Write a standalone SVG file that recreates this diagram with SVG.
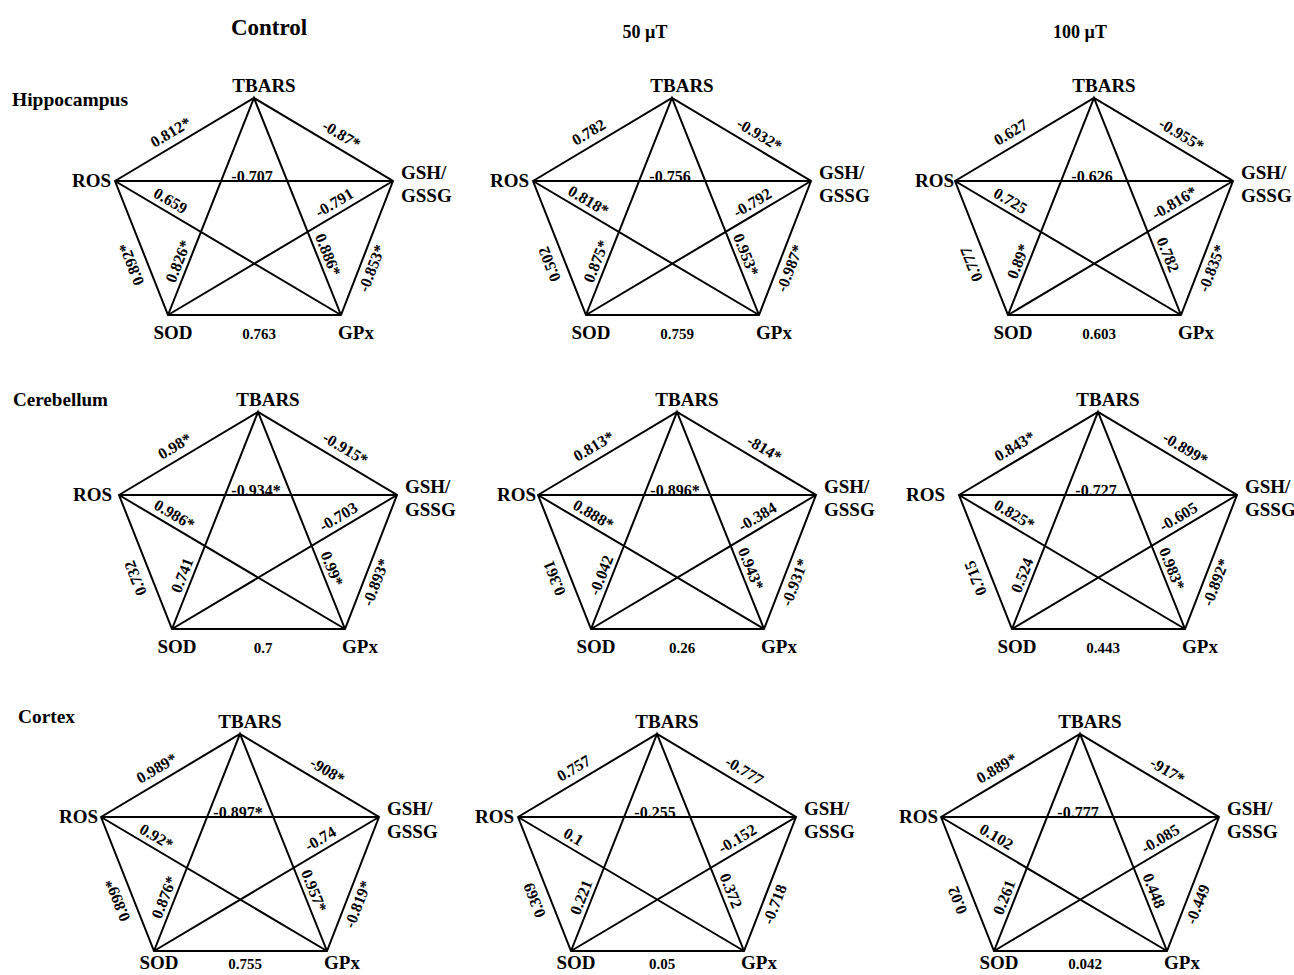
<svg xmlns="http://www.w3.org/2000/svg" xmlns:xlink="http://www.w3.org/1999/xlink" width="1294" height="975" viewBox="0 0 1294 975">
<style>
text{font-family:"Liberation Serif","Times New Roman",serif;font-weight:bold;fill:#000}
.t1{font-size:23px;text-anchor:middle}
.t2{font-size:18px;text-anchor:middle}
.r{font-size:19px}
.n{font-size:19px}
.m{text-anchor:middle}
.en{text-anchor:end}
.e{font-size:16px;text-anchor:middle}
.b{font-size:15px;text-anchor:middle}
.w{fill:none;stroke:#000;stroke-width:2;stroke-linejoin:miter}
</style>
<defs>
<path id="web" class="w" d="M-139,83 L0,0 L139,83 L87,217 L-86,217 Z M-139,83 L139,83 M-139,83 L87,217 M139,83 L-86,217 M-86,217 L0,0 L87,217"/>
</defs>
<rect width="1294" height="975" fill="#fff"/>
<g id="titles">
<text class="t1" x="269" y="35">Control</text>
<text class="t2" x="645" y="38">50 µT</text>
<text class="t2" x="1080" y="38">100 µT</text>
<text class="r" x="12" y="106" textLength="116" lengthAdjust="spacingAndGlyphs">Hippocampus</text>
<text class="r" x="13" y="406" textLength="95" lengthAdjust="spacingAndGlyphs">Cerebellum</text>
<text class="r" x="18" y="723" textLength="57" lengthAdjust="spacingAndGlyphs">Cortex</text>
</g>

<!-- Panel 1 -->
<g id="hippo-control" transform="translate(254,98)">
<g id="hippo-control-connectors">
<use href="#web" xlink:href="#web"/>
<text class="e" transform="translate(-76.5,45.7) rotate(-30.84)" y="-8">0.812*</text>
<text class="e" transform="translate(80.6,48.1) rotate(30.84)" y="-8">-0.87*</text>
<text class="e" x="-2" y="84">-0.707</text>
<text class="e" transform="translate(-89.3,112.5) rotate(30.66)" y="-6">0.659</text>
<text class="e" transform="translate(86.1,114.5) rotate(-30.77)" y="-6">-0.791</text>
<text class="e" transform="translate(-66.2,167.1) rotate(-68.38)" y="-5">0.826*</text>
<text class="e" transform="translate(64.4,160.6) rotate(68.15)" y="-5">0.886*</text>
<text class="e" transform="translate(-108.3,160.7) rotate(-111.58)" y="-10">0.892*</text>
<text class="e" transform="translate(106.8,166.1) rotate(-68.79)" y="17">-0.853*</text>
<text class="b" x="5" y="241">0.763</text>
</g>
<g id="hippo-control-TBARS"><text class="n m" x="10" y="-6">TBARS</text></g>
<g id="hippo-control-ROS"><text class="n en" x="-143" y="89">ROS</text></g>
<g id="hippo-control-GSH"><text class="n" x="147" y="81">GSH/</text><text class="n" x="147" y="104">GSSG</text></g>
<g id="hippo-control-SOD"><text class="n m" x="-81" y="241">SOD</text></g>
<g id="hippo-control-GPx"><text class="n m" x="102" y="241">GPx</text></g>
</g>

<!-- Panel 2 -->
<g id="hippo-50" transform="translate(672,98)">
<g id="hippo-50-connectors">
<use href="#web" xlink:href="#web"/>
<text class="e" transform="translate(-76.5,45.7) rotate(-30.84)" y="-8">0.782</text>
<text class="e" transform="translate(80.6,48.1) rotate(30.84)" y="-8">-0.932*</text>
<text class="e" x="-2" y="84">-0.756</text>
<text class="e" transform="translate(-89.3,112.5) rotate(30.66)" y="-6">0.818*</text>
<text class="e" transform="translate(86.1,114.5) rotate(-30.77)" y="-6">-0.792</text>
<text class="e" transform="translate(-66.2,167.1) rotate(-68.38)" y="-5">0.875*</text>
<text class="e" transform="translate(64.4,160.6) rotate(68.15)" y="-5">0.953*</text>
<text class="e" transform="translate(-108.3,160.7) rotate(-111.58)" y="-10">0.502</text>
<text class="e" transform="translate(106.8,166.1) rotate(-68.79)" y="17">-0.987*</text>
<text class="b" x="5" y="241">0.759</text>
</g>
<g id="hippo-50-TBARS"><text class="n m" x="10" y="-6">TBARS</text></g>
<g id="hippo-50-ROS"><text class="n en" x="-143" y="89">ROS</text></g>
<g id="hippo-50-GSH"><text class="n" x="147" y="81">GSH/</text><text class="n" x="147" y="104">GSSG</text></g>
<g id="hippo-50-SOD"><text class="n m" x="-81" y="241">SOD</text></g>
<g id="hippo-50-GPx"><text class="n m" x="102" y="241">GPx</text></g>
</g>

<!-- Panel 3 -->
<g id="hippo-100" transform="translate(1094,98)">
<g id="hippo-100-connectors">
<use href="#web" xlink:href="#web"/>
<text class="e" transform="translate(-76.5,45.7) rotate(-30.84)" y="-8">0.627</text>
<text class="e" transform="translate(80.6,48.1) rotate(30.84)" y="-8">-0.955*</text>
<text class="e" x="-2" y="84">-0.626</text>
<text class="e" transform="translate(-89.3,112.5) rotate(30.66)" y="-6">0.725</text>
<text class="e" transform="translate(86.1,114.5) rotate(-30.77)" y="-6">-0.816*</text>
<text class="e" transform="translate(-66.2,167.1) rotate(-68.38)" y="-5">0.89*</text>
<text class="e" transform="translate(64.4,160.6) rotate(68.15)" y="-5">0.782</text>
<text class="e" transform="translate(-108.3,160.7) rotate(-111.58)" y="-10">0.777</text>
<text class="e" transform="translate(106.8,166.1) rotate(-68.79)" y="17">-0.835*</text>
<text class="b" x="5" y="241">0.603</text>
</g>
<g id="hippo-100-TBARS"><text class="n m" x="10" y="-6">TBARS</text></g>
<g id="hippo-100-ROS"><text class="n en" x="-140" y="89">ROS</text></g>
<g id="hippo-100-GSH"><text class="n" x="147" y="81">GSH/</text><text class="n" x="147" y="104">GSSG</text></g>
<g id="hippo-100-SOD"><text class="n m" x="-81" y="241">SOD</text></g>
<g id="hippo-100-GPx"><text class="n m" x="102" y="241">GPx</text></g>
</g>

<!-- Panel 4 -->
<g id="cereb-control" transform="translate(258,412)">
<g id="cereb-control-connectors">
<use href="#web" xlink:href="#web"/>
<text class="e" transform="translate(-76.5,45.7) rotate(-30.84)" y="-8">0.98*</text>
<text class="e" transform="translate(80.6,48.1) rotate(30.84)" y="-8">-0.915*</text>
<text class="e" x="-2" y="84">-0.934*</text>
<text class="e" transform="translate(-89.3,112.5) rotate(30.66)" y="-6">0.986*</text>
<text class="e" transform="translate(86.1,114.5) rotate(-30.77)" y="-6">-0.703</text>
<text class="e" transform="translate(-66.2,167.1) rotate(-68.38)" y="-5">0.741</text>
<text class="e" transform="translate(64.4,160.6) rotate(68.15)" y="-5">0.99*</text>
<text class="e" transform="translate(-108.3,160.7) rotate(-111.58)" y="-10">0.732</text>
<text class="e" transform="translate(106.8,166.1) rotate(-68.79)" y="17">-0.893*</text>
<text class="b" x="5" y="241">0.7</text>
</g>
<g id="cereb-control-TBARS"><text class="n m" x="10" y="-6">TBARS</text></g>
<g id="cereb-control-ROS"><text class="n en" x="-146" y="89">ROS</text></g>
<g id="cereb-control-GSH"><text class="n" x="147" y="81">GSH/</text><text class="n" x="147" y="104">GSSG</text></g>
<g id="cereb-control-SOD"><text class="n m" x="-81" y="241">SOD</text></g>
<g id="cereb-control-GPx"><text class="n m" x="102" y="241">GPx</text></g>
</g>

<!-- Panel 5 -->
<g id="cereb-50" transform="translate(677,412)">
<g id="cereb-50-connectors">
<use href="#web" xlink:href="#web"/>
<text class="e" transform="translate(-76.5,45.7) rotate(-30.84)" y="-8">0.813*</text>
<text class="e" transform="translate(80.6,48.1) rotate(30.84)" y="-8">-814*</text>
<text class="e" x="-2" y="84">-0.896*</text>
<text class="e" transform="translate(-89.3,112.5) rotate(30.66)" y="-6">0.888*</text>
<text class="e" transform="translate(86.1,114.5) rotate(-30.77)" y="-6">-0.384</text>
<text class="e" transform="translate(-66.2,167.1) rotate(-68.38)" y="-5">-0.042</text>
<text class="e" transform="translate(64.4,160.6) rotate(68.15)" y="-5">0.943*</text>
<text class="e" transform="translate(-108.3,160.7) rotate(-111.58)" y="-10">0.361</text>
<text class="e" transform="translate(106.8,166.1) rotate(-68.79)" y="17">-0.931*</text>
<text class="b" x="5" y="241">0.26</text>
</g>
<g id="cereb-50-TBARS"><text class="n m" x="10" y="-6">TBARS</text></g>
<g id="cereb-50-ROS"><text class="n en" x="-141" y="89">ROS</text></g>
<g id="cereb-50-GSH"><text class="n" x="147" y="81">GSH/</text><text class="n" x="147" y="104">GSSG</text></g>
<g id="cereb-50-SOD"><text class="n m" x="-81" y="241">SOD</text></g>
<g id="cereb-50-GPx"><text class="n m" x="102" y="241">GPx</text></g>
</g>

<!-- Panel 6 -->
<g id="cereb-100" transform="translate(1098,412)">
<g id="cereb-100-connectors">
<use href="#web" xlink:href="#web"/>
<text class="e" transform="translate(-76.5,45.7) rotate(-30.84)" y="-8">0.843*</text>
<text class="e" transform="translate(80.6,48.1) rotate(30.84)" y="-8">-0.899*</text>
<text class="e" x="-2" y="84">-0.727</text>
<text class="e" transform="translate(-89.3,112.5) rotate(30.66)" y="-6">0.825*</text>
<text class="e" transform="translate(86.1,114.5) rotate(-30.77)" y="-6">-0.605</text>
<text class="e" transform="translate(-66.2,167.1) rotate(-68.38)" y="-5">0.524</text>
<text class="e" transform="translate(64.4,160.6) rotate(68.15)" y="-5">0.983*</text>
<text class="e" transform="translate(-108.3,160.7) rotate(-111.58)" y="-10">0.715</text>
<text class="e" transform="translate(106.8,166.1) rotate(-68.79)" y="17">-0.892*</text>
<text class="b" x="5" y="241">0.443</text>
</g>
<g id="cereb-100-TBARS"><text class="n m" x="10" y="-6">TBARS</text></g>
<g id="cereb-100-ROS"><text class="n en" x="-153" y="89">ROS</text></g>
<g id="cereb-100-GSH"><text class="n" x="147" y="81">GSH/</text><text class="n" x="147" y="104">GSSG</text></g>
<g id="cereb-100-SOD"><text class="n m" x="-81" y="241">SOD</text></g>
<g id="cereb-100-GPx"><text class="n m" x="102" y="241">GPx</text></g>
</g>

<!-- Panel 7 -->
<g id="cortex-control" transform="translate(240,734)">
<g id="cortex-control-connectors">
<use href="#web" xlink:href="#web"/>
<text class="e" transform="translate(-76.5,45.7) rotate(-30.84)" y="-8">0.989*</text>
<text class="e" transform="translate(80.6,48.1) rotate(30.84)" y="-8">-908*</text>
<text class="e" x="-2" y="84">-0.897*</text>
<text class="e" transform="translate(-89.3,112.5) rotate(30.66)" y="-6">0.92*</text>
<text class="e" transform="translate(86.1,114.5) rotate(-30.77)" y="-6">-0.74</text>
<text class="e" transform="translate(-66.2,167.1) rotate(-68.38)" y="-5">0.876*</text>
<text class="e" transform="translate(64.4,160.6) rotate(68.15)" y="-5">0.957*</text>
<text class="e" transform="translate(-108.3,160.7) rotate(-111.58)" y="-10">0.899*</text>
<text class="e" transform="translate(106.8,166.1) rotate(-68.79)" y="17">-0.819*</text>
<text class="b" x="5" y="235">0.755</text>
</g>
<g id="cortex-control-TBARS"><text class="n m" x="10" y="-6">TBARS</text></g>
<g id="cortex-control-ROS"><text class="n en" x="-142" y="89">ROS</text></g>
<g id="cortex-control-GSH"><text class="n" x="147" y="81">GSH/</text><text class="n" x="147" y="104">GSSG</text></g>
<g id="cortex-control-SOD"><text class="n m" x="-81" y="235">SOD</text></g>
<g id="cortex-control-GPx"><text class="n m" x="102" y="235">GPx</text></g>
</g>

<!-- Panel 8 -->
<g id="cortex-50" transform="translate(657,734)">
<g id="cortex-50-connectors">
<use href="#web" xlink:href="#web"/>
<text class="e" transform="translate(-76.5,45.7) rotate(-30.84)" y="-8">0.757</text>
<text class="e" transform="translate(80.6,48.1) rotate(30.84)" y="-8">-0.777</text>
<text class="e" x="-2" y="84">-0.255</text>
<text class="e" transform="translate(-89.3,112.5) rotate(30.66)" y="-6">0.1</text>
<text class="e" transform="translate(86.1,114.5) rotate(-30.77)" y="-6">-0.152</text>
<text class="e" transform="translate(-66.2,167.1) rotate(-68.38)" y="-5">0.221</text>
<text class="e" transform="translate(64.4,160.6) rotate(68.15)" y="-5">0.372</text>
<text class="e" transform="translate(-108.3,160.7) rotate(-111.58)" y="-10">0.369</text>
<text class="e" transform="translate(106.8,166.1) rotate(-68.79)" y="17">-0.718</text>
<text class="b" x="5" y="235">0.05</text>
</g>
<g id="cortex-50-TBARS"><text class="n m" x="10" y="-6">TBARS</text></g>
<g id="cortex-50-ROS"><text class="n en" x="-143" y="89">ROS</text></g>
<g id="cortex-50-GSH"><text class="n" x="147" y="81">GSH/</text><text class="n" x="147" y="104">GSSG</text></g>
<g id="cortex-50-SOD"><text class="n m" x="-81" y="235">SOD</text></g>
<g id="cortex-50-GPx"><text class="n m" x="102" y="235">GPx</text></g>
</g>

<!-- Panel 9 -->
<g id="cortex-100" transform="translate(1080,734)">
<g id="cortex-100-connectors">
<use href="#web" xlink:href="#web"/>
<text class="e" transform="translate(-76.5,45.7) rotate(-30.84)" y="-8">0.889*</text>
<text class="e" transform="translate(80.6,48.1) rotate(30.84)" y="-8">-917*</text>
<text class="e" x="-2" y="84">-0.777</text>
<text class="e" transform="translate(-89.3,112.5) rotate(30.66)" y="-6">0.102</text>
<text class="e" transform="translate(86.1,114.5) rotate(-30.77)" y="-6">-0.085</text>
<text class="e" transform="translate(-66.2,167.1) rotate(-68.38)" y="-5">0.261</text>
<text class="e" transform="translate(64.4,160.6) rotate(68.15)" y="-5">0.448</text>
<text class="e" transform="translate(-108.3,160.7) rotate(-111.58)" y="-10">0.02</text>
<text class="e" transform="translate(106.8,166.1) rotate(-68.79)" y="17">-0.449</text>
<text class="b" x="5" y="235">0.042</text>
</g>
<g id="cortex-100-TBARS"><text class="n m" x="10" y="-6">TBARS</text></g>
<g id="cortex-100-ROS"><text class="n en" x="-142" y="89">ROS</text></g>
<g id="cortex-100-GSH"><text class="n" x="147" y="81">GSH/</text><text class="n" x="147" y="104">GSSG</text></g>
<g id="cortex-100-SOD"><text class="n m" x="-81" y="235">SOD</text></g>
<g id="cortex-100-GPx"><text class="n m" x="102" y="235">GPx</text></g>
</g>
</svg>
